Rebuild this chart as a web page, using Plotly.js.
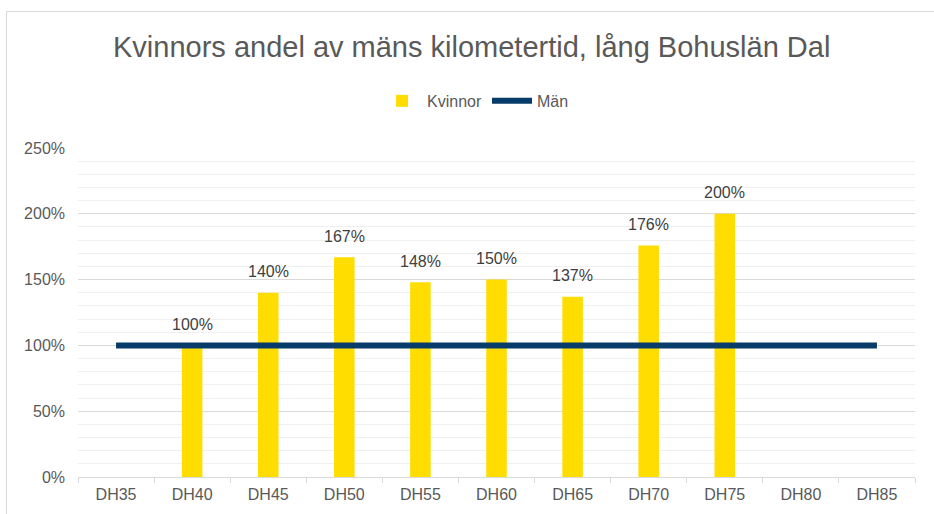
<!DOCTYPE html>
<html>
<head>
<meta charset="utf-8">
<script src="https://cdn.plot.ly/plotly-3.0.1.min.js"></script>
<style>
  html, body { margin: 0; padding: 0; background: #ffffff; overflow: hidden; }
  #frame { position: absolute; left: 6px; top: 11px; width: 960px; height: 540px; border: 1px solid #d9d9d9; box-sizing: border-box; }
  #chart { position: absolute; left: 0; top: 0; width: 934px; height: 514px; }
</style>
</head>
<body>
<div id="frame"></div>
<div id="chart"></div>
<script>
const categories = ["DH35", "DH40", "DH45", "DH50", "DH55", "DH60", "DH65", "DH70", "DH75", "DH80", "DH85"];
const kvinnor = [null, 1.00, 1.40, 1.67, 1.48, 1.50, 1.37, 1.76, 2.00, null, null];
const man = [1, 1, 1, 1, 1, 1, 1, 1, 1, 1, 1];
const yTicks = [0, 0.5, 1.0, 1.5, 2.0, 2.5];

const textColor = "#595959";
const font = "Liberation Sans, Arial, sans-serif";

const traces = [
  {
    type: "bar",
    name: "Kvinnor",
    x: categories,
    y: kvinnor,
    marker: { color: "#FFDD00" },
    width: 0.27,
    hoverinfo: "skip"
  },
  {
    type: "scatter",
    mode: "lines",
    name: "Män",
    x: categories,
    y: man,
    line: { color: "#073B6A", width: 6 },
    hoverinfo: "skip"
  }
];

const labels = [];
categories.forEach((c, i) => {
  const v = kvinnor[i];
  if (v === null) return;
  labels.push({
    x: c, y: v, xref: "x", yref: "y",
    text: Math.round(v * 100) + "%",
    showarrow: false,
    yanchor: "middle",
    yshift: 21,
    font: { family: font, size: 16, color: "#404040" }
  });
});

const layout = {
  width: 934,
  height: 514,
  margin: { l: 78, r: 19, t: 148, b: 37 },
  paper_bgcolor: "rgba(0,0,0,0)",
  plot_bgcolor: "rgba(0,0,0,0)",
  font: { family: font, color: textColor, size: 16 },
  title: {
    text: "Kvinnors andel av mäns kilometertid, lång Bohuslän Dal",
    font: { family: font, size: 29, color: textColor },
    x: 0.505, xanchor: "center",
    y: 1 - 47 / 514, yanchor: "middle"
  },
  showlegend: true,
  legend: {
    orientation: "h",
    x: 0.475, xanchor: "center",
    y: 1.143, yanchor: "middle",
    font: { family: font, size: 16, color: textColor },
    traceorder: "normal",
    itemwidth: 40
  },
  annotations: labels,
  bargap: 0.73,
  xaxis: {
    type: "category",
    showline: true,
    linecolor: "#d9d9d9",
    linewidth: 1,
    ticks: "outside",
    tickson: "boundaries",
    ticklen: 5,
    tickcolor: "#d9d9d9",
    showgrid: false,
    ticklabelstandoff: 3,
    tickfont: { family: font, size: 16, color: textColor },
    fixedrange: true
  },
  yaxis: {
    range: [0, 2.5],
    tickvals: yTicks,
    tickformat: ".0%",
    showgrid: true,
    gridcolor: "#d9d9d9",
    gridwidth: 1,
    zeroline: false,
    showline: false,
    ticks: "",
    ticklabelstandoff: 12,
    tickfont: { family: font, size: 16, color: textColor },
    minor: { dtick: 0.1, showgrid: true, gridcolor: "#efefef", gridwidth: 1 },
    fixedrange: true
  }
};

Plotly.newPlot("chart", traces, layout, { displayModeBar: false, staticPlot: true });
</script>
</body>
</html>
